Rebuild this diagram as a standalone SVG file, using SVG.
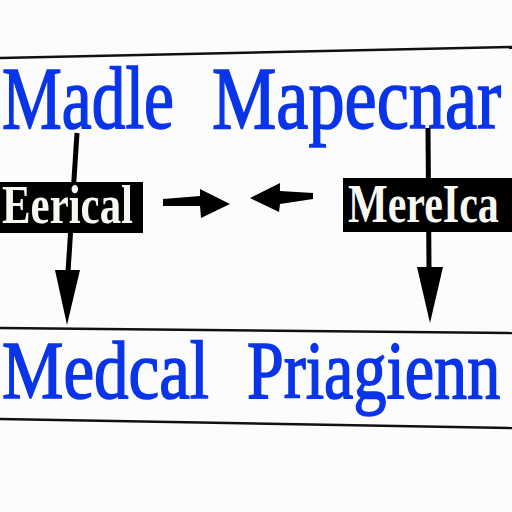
<svg xmlns="http://www.w3.org/2000/svg" width="512" height="512" viewBox="0 0 512 512">
<style>
.blue{font-family:"Liberation Serif","Times New Roman",serif;fill:#0a34e8;stroke:#0a34e8;stroke-width:1.6;}
.lbl{font-family:"Liberation Serif","Times New Roman",serif;font-weight:bold;fill:#f8f8f2;}
.frame{fill:none;stroke:#111;stroke-width:2.5;}
.conn{stroke:#000;stroke-width:5;fill:none;}
</style>
<rect width="512" height="512" fill="#fcfcfc"/>
<g id="top">
<path class="frame" d="M0 58 L512 47"/>
<text class="blue" x="2" y="128" font-size="88" textLength="172" lengthAdjust="spacingAndGlyphs">Madle</text>
<text class="blue" transform="translate(212,128) scale(0.822,1)" x="0" y="0" font-size="88">Mapecnar</text>
</g>
<g id="bottom">
<path class="frame" d="M-2 328 L512 333"/>
<path class="frame" d="M-2 419 L512 428"/>
<text class="blue" x="2" y="398" font-size="83" textLength="207" lengthAdjust="spacingAndGlyphs">Medcal</text>
<text class="blue" transform="translate(247,398) scale(0.796,1)" x="0" y="0" font-size="83">Priagienn</text>
</g>
<g id="connectors">
<path class="conn" d="M77 133 L68 272"/>
<polygon points="55,270 80,270 67,325" fill="#000"/>
<path class="conn" d="M428 128 L429 268"/>
<polygon points="417,267 443,267 430,323" fill="#000"/>
<polygon points="163,199 200,196 200,189 230,204 201,218 200,206 163,206" fill="#000"/>
<polygon points="250,198 280,183 280,191 313,193 313,199 280,204 279,212" fill="#000"/>
</g>
<g id="left-node">
<rect x="-2" y="182" width="145" height="51" fill="#000"/>
<text class="lbl" x="2" y="223" font-size="54" textLength="131" lengthAdjust="spacingAndGlyphs">Eerical</text>
</g>
<g id="right-node">
<rect x="343" y="178" width="172" height="54" fill="#000"/>
<text class="lbl" transform="translate(348,222) scale(0.778,1)" x="0" y="0" font-size="54">MereIca</text>
</g>
</svg>
